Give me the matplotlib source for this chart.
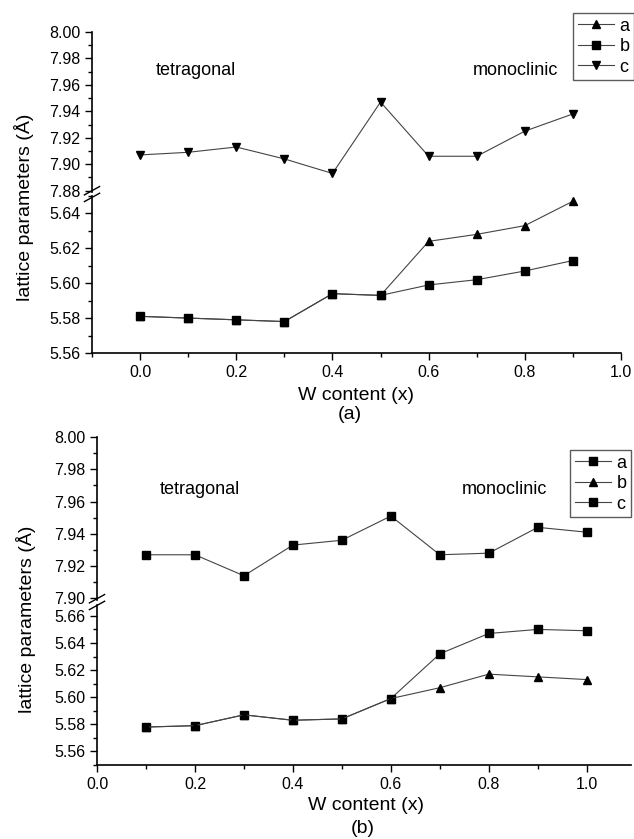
import matplotlib
matplotlib.use("Agg")
import matplotlib.pyplot as plt
from matplotlib.ticker import MultipleLocator, FormatStrFormatter
from matplotlib.lines import Line2D

plt.rcParams['font.family'] = ['Liberation Sans', 'DejaVu Sans']

# panel (a)
xa = [0.0, 0.1, 0.2, 0.3, 0.4, 0.5, 0.6, 0.7, 0.8, 0.9]
a_a = [5.581, 5.580, 5.579, 5.578, 5.594, 5.593, 5.624, 5.628, 5.633, 5.647]
a_b = [5.581, 5.580, 5.579, 5.578, 5.594, 5.593, 5.599, 5.602, 5.607, 5.613]
a_c = [7.907, 7.909, 7.913, 7.904, 7.893, 7.947, 7.906, 7.906, 7.925, 7.938]

# panel (b)
xb = [0.1, 0.2, 0.3, 0.4, 0.5, 0.6, 0.7, 0.8, 0.9, 1.0]
b_a = [5.578, 5.579, 5.587, 5.583, 5.584, 5.599, 5.632, 5.647, 5.650, 5.649]
b_b = [5.578, 5.579, 5.587, 5.583, 5.584, 5.599, 5.607, 5.617, 5.615, 5.613]
b_c = [7.927, 7.927, 7.914, 7.933, 7.936, 7.951, 7.927, 7.928, 7.944, 7.941]

fig = plt.figure(figsize=(6.34, 8.39), dpi=100)

LINE = dict(color='#444444', lw=0.8, markersize=6, markerfacecolor='black',
            markeredgecolor='black')


def style(ax, major, minor):
    for s in ['top', 'right']:
        ax.spines[s].set_visible(False)
    ax.yaxis.set_major_locator(MultipleLocator(major))
    ax.yaxis.set_minor_locator(MultipleLocator(minor))
    ax.yaxis.set_major_formatter(FormatStrFormatter('%.2f'))
    ax.tick_params(direction='out', labelsize=11.5, length=5, width=1)
    ax.tick_params(which='minor', direction='out', length=3, width=1)
    for s in ax.spines.values():
        s.set_linewidth(1.2)


def panel(left, width, top_rect, bot_rect, xlim, up_lim, lo_lim,
          x, up, lo1, lo2, mk, labels, leg_anchor, tet_xy, mono_xy,
          xlab_xy, tag_xy, ylab_xy):
    axu = fig.add_axes([left, top_rect[0], width, top_rect[1]])
    axl = fig.add_axes([left, bot_rect[0], width, bot_rect[1]])
    axu.plot(x, up, marker=mk[2], **LINE)
    axl.plot(x, lo1, marker=mk[0], **LINE)
    axl.plot(x, lo2, marker=mk[1], **LINE)
    for ax in (axu, axl):
        ax.set_xlim(*xlim)
        style(ax, 0.02, 0.01)
    axu.set_ylim(*up_lim)
    axl.set_ylim(*lo_lim)
    axu.spines['bottom'].set_visible(False)
    axu.tick_params(axis='x', which='both', bottom=False, labelbottom=False)
    axl.xaxis.set_major_locator(MultipleLocator(0.2))
    axl.xaxis.set_minor_locator(MultipleLocator(0.1))
    axl.xaxis.set_major_formatter(FormatStrFormatter('%.1f'))

    # break marks on the y axis
    for dy in (-0.004, 0.004):
        yb = top_rect[0] - 0.0025 + dy
        fig.add_artist(Line2D([left - 0.012, left + 0.012], [yb - 0.005, yb + 0.005],
                              color='black', lw=1.0, transform=fig.transFigure))

    axu.text(tet_xy[0], tet_xy[1], 'tetragonal', transform=axu.transAxes,
             fontsize=13, va='center')
    axu.text(mono_xy[0], mono_xy[1], 'monoclinic', transform=axu.transAxes,
             fontsize=13, va='center')

    handles = [Line2D([], [], marker=m, **LINE) for m in mk]
    fig.legend(handles, labels, loc='upper right', bbox_to_anchor=leg_anchor,
               bbox_transform=fig.transFigure, fontsize=13, frameon=True,
               fancybox=False, edgecolor='#333333', handlelength=2.0,
               handletextpad=0.3, borderpad=0.25, labelspacing=0.2,
               borderaxespad=0)

    fig.text(xlab_xy[0], xlab_xy[1], 'W content (x)', ha='center', va='center',
             fontsize=14)
    fig.text(tag_xy[0], tag_xy[1], tag_xy[2], ha='center', va='center', fontsize=14)
    fig.text(ylab_xy[0], ylab_xy[1], 'lattice parameters (Å)', rotation=90,
             ha='center', va='center', fontsize=14)


panel(0.1451, 0.8344, (0.7712, 0.1907), (0.5793, 0.1871), (-0.1, 1.0),
      (7.879, 8.00), (5.56, 5.65), xa, a_c, a_a, a_b, ['^', 's', 'v'],
      ['a', 'b', 'c'], (1.0, 0.9845), (0.121, 0.76), (0.72, 0.76),
      (0.5623, 0.5292), (0.552, 0.5054, '(a)'), (0.038, 0.753))

panel(0.153, 0.842, (0.2849, 0.1943), (0.0882, 0.1907), (0.0, 1.09),
      (7.899, 8.00), (5.55, 5.668), xb, b_c, b_a, b_b, ['s', '^', 's'],
      ['a', 'b', 'c'], (0.995, 0.4636), (0.118, 0.675), (0.683, 0.675),
      (0.577, 0.0405), (0.5726, 0.0131, '(b)'), (0.041, 0.262))

fig.savefig('out.png', dpi=100)
